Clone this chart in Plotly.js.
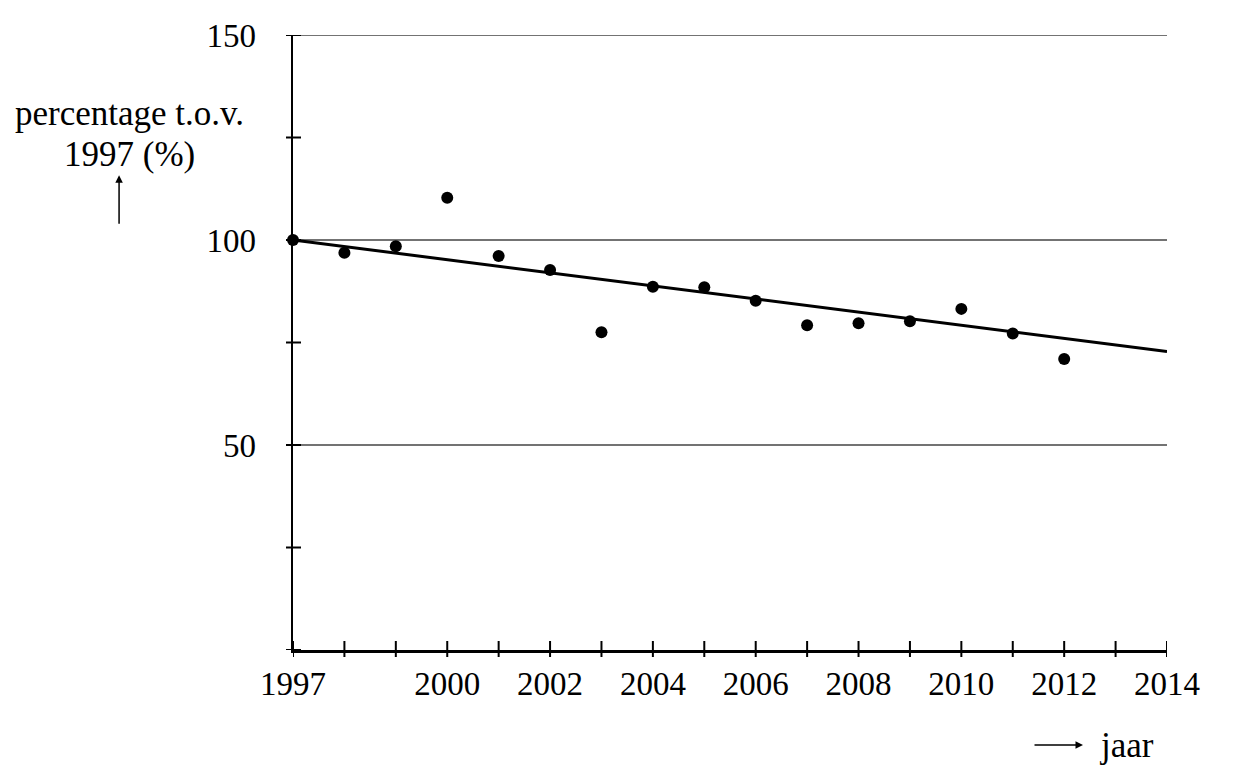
<!DOCTYPE html>
<html>
<head>
<meta charset="utf-8">
<script src="https://cdn.plot.ly/plotly-3.0.1.min.js"></script>
<style>html,body{margin:0;padding:0;background:#fff}#chart{width:1242px;height:778px}</style>
</head>
<body>
<div id="chart"></div>
<script>
// Data
const years = [1997, 1998, 1999, 2000, 2001, 2002, 2003, 2004, 2005, 2006, 2007, 2008, 2009, 2010, 2011, 2012];
const percentages = [100, 96.9, 98.5, 110.3, 96.1, 92.7, 77.5, 88.6, 88.5, 85.2, 79.2, 79.7, 80.2, 83.2, 77.2, 71.0];
const trendYears = [1997, 2014];
const trendValues = [100, 72.8];

const xTickVals = [1997,1998,1999,2000,2001,2002,2003,2004,2005,2006,2007,2008,2009,2010,2011,2012,2013,2014];
const xTickText = ['1997','','','2000','','2002','','2004','','2006','','2008','','2010','','2012','','2014'];
const yTickVals = [0, 25, 50, 75, 100, 125, 150];
const yTickText = ['', '', '50', '', '100', '', '150'];
const yGridVals = [50, 100, 150];

const FONT = 'Liberation Serif, Times New Roman, serif';
const xRange = [1997, 2014];
const yRange = [0, 150];

const traces = [
  {
    x: trendYears, y: trendValues, type: 'scatter', mode: 'lines',
    line: {color: '#000', width: 3}, hoverinfo: 'skip'
  },
  {
    x: years, y: percentages, type: 'scatter', mode: 'markers',
    marker: {color: '#000', size: 12}, cliponaxis: false
  }
];

// Crossing tick marks and grid lines, positioned through the axes' own scales
const shapes = [];
yGridVals.forEach(v => shapes.push({
  type: 'line', layer: 'below', xref: 'paper', x0: 0, x1: 1, yref: 'y', y0: v, y1: v,
  line: {color: '#444', width: 1.3}
}));
xTickVals.forEach(v => shapes.push({
  type: 'line', layer: 'above', xref: 'x', x0: v, x1: v,
  yref: 'paper', ysizemode: 'pixel', yanchor: 0, y0: -7, y1: 9,
  line: {color: '#000', width: 2}
}));
yTickVals.forEach(v => shapes.push({
  type: 'line', layer: 'above', yref: 'y', y0: v, y1: v,
  xref: 'paper', xsizemode: 'pixel', xanchor: 0, x0: -7, x1: 8,
  line: {color: '#000', width: 2}
}));

const layout = {
  width: 1242, height: 778,
  margin: {l: 293, r: 75, t: 35, b: 128},
  paper_bgcolor: '#fff', plot_bgcolor: 'rgba(0,0,0,0)',
  showlegend: false,
  font: {family: FONT, size: 34, color: '#000'},
  xaxis: {
    range: xRange, tickmode: 'array', tickvals: xTickVals, ticktext: xTickText,
    ticks: '', showline: true, linecolor: '#000', linewidth: 2.5,
    showgrid: false, zeroline: false, fixedrange: true, ticklabelstandoff: 3,
    tickfont: {family: FONT, size: 33, color: '#000'}
  },
  yaxis: {
    range: yRange, tickmode: 'array', tickvals: yTickVals, ticktext: yTickText,
    ticks: '', showline: true, linecolor: '#000', linewidth: 2.5,
    showgrid: false, zeroline: false, fixedrange: true, ticklabelstandoff: 28,
    tickfont: {family: FONT, size: 33, color: '#000'}
  },
  shapes: shapes,
  annotations: [
    {xref: 'paper', yref: 'paper', x: -0.1865, y: 0.873, text: 'percentage t.o.v.',
     showarrow: false, xanchor: 'center', yanchor: 'middle', font: {family: FONT, size: 35}},
    {xref: 'paper', yref: 'paper', x: -0.1865, y: 0.805, text: '1997 (%)',
     showarrow: false, xanchor: 'center', yanchor: 'middle', font: {family: FONT, size: 35}},
    {xref: 'paper', yref: 'paper', x: -0.199, y: 0.772, text: '', showarrow: true,
     ax: 0, ay: 50, arrowhead: 2, arrowsize: 1, arrowwidth: 1.5, arrowcolor: '#000', standoff: 0},
    {xref: 'paper', yref: 'paper', x: 0.9039, y: -0.1545, text: '', showarrow: true,
     ax: -50, ay: 0, arrowhead: 2, arrowsize: 1, arrowwidth: 1.5, arrowcolor: '#000', standoff: 0},
    {xref: 'paper', yref: 'paper', x: 0.9199, y: -0.1545, text: 'jaar',
     showarrow: false, xanchor: 'left', yanchor: 'middle', font: {family: FONT, size: 35}}
  ]
};

Plotly.newPlot('chart', traces, layout, {displayModeBar: false, staticPlot: true});
</script>
</body>
</html>
